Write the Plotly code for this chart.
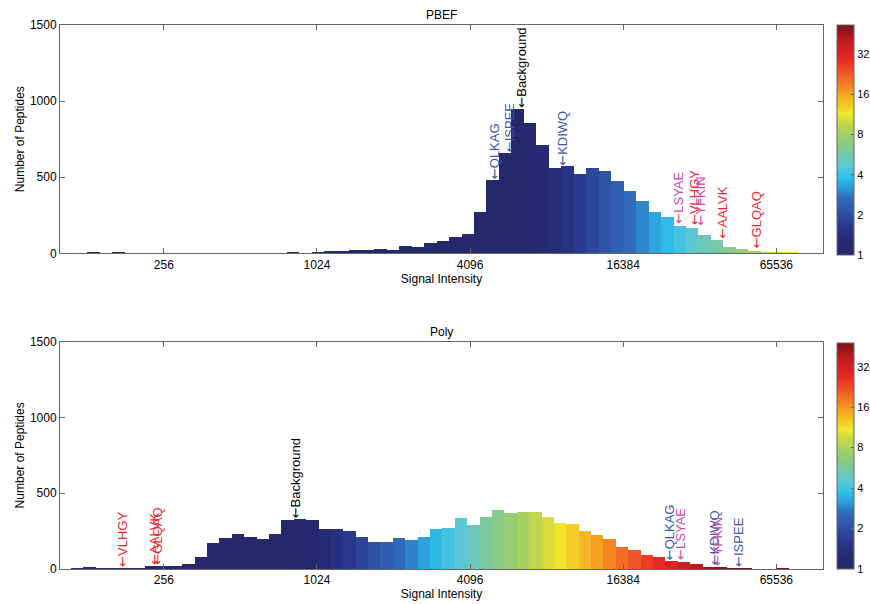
import numpy as np
import plotly.graph_objects as go

# ---------------- data ----------------
# PBEF histogram (bins equally spaced in log2 intensity)
pbef_first_edge = 128.2          # intensity at left edge of first bin
pbef_bin_log2 = 0.16287          # bin width in log2 units
pbef_counts = [3, 0, 3, 0, 0, 0, 0, 2, 2, 0, 1, 1, 1, 1, 1, 1, 8, 1, 8, 15,
               15, 22, 22, 29, 22, 50, 41, 66, 81, 104, 125, 271, 479, 660, 950, 857, 712, 563, 571, 522,
               558, 542, 473, 407, 347, 274, 237, 178, 165, 121, 88, 40, 30, 17, 10, 3, 3]
pbef_background = 6553

pbef_labels = ["QLKAG", "ISPEE", "Background", "KDIWQ", "LSYAE", "VLHGY", "YFKIN", "AALVK", "GLQAQ"]
pbef_label_x = [5120, 5898, 6553, 9490, 26970, 31170, 33100, 40260, 54700]
pbef_label_y = [479, 660, 950, 571, 190, 178, 178, 88, 25]
pbef_label_kind = ["blue", "blue", "black", "blue", "magenta", "red", "magenta", "red", "red"]

# Poly histogram
poly_first_edge = 110.2
poly_bin_log2 = 0.16182
poly_counts = [6, 12, 6, 6, 10, 10, 21, 21, 19, 33, 83, 176, 206, 231, 211, 202, 231, 323, 331, 322,
               265, 265, 254, 212, 178, 181, 205, 190, 211, 264, 275, 338, 289, 348, 390, 371, 375, 380, 344, 306,
               297, 251, 229, 200, 148, 125, 93, 79, 53, 47, 35, 16, 12, 8, 3, 1, 1, 3]
poly_background = 843

poly_labels = ["VLHGY", "AALVK", "GLQAQ", "Background", "QLKAG", "LSYAE", "KDIWQ", "YFKIN", "ISPEE"]
poly_label_x = [176.8, 236, 241, 843, 25090, 27630, 37340, 38260, 46790]
poly_label_y = [10, 20, 20, 331, 53, 53, 16, 16, 8]
poly_label_kind = ["red", "red", "red", "black", "blue", "magenta", "blue", "magenta", "blue"]

x_ticks = [256, 1024, 4096, 16384, 65536]
x_limits = [100, 100000]
y_ticks = [0, 500, 1000, 1500]
cbar_ticks = [1, 2, 4, 8, 16, 32]
pbef_cmax_ratio = 53
poly_cmax_ratio = 48

# ---------------- style ----------------
FONT = "Liberation Sans, Arial, Helvetica, sans-serif"
label_colors = {"blue": "rgb(58,86,176)", "magenta": "rgb(206,72,168)",
                "red": "rgb(238,38,44)", "black": "rgb(0,0,0)"}
colorscale = [
    [0.0, "rgb(38,40,108)"],
    [0.06, "rgb(38,42,115)"],
    [0.123, "rgb(40,55,140)"],
    [0.170, "rgb(45,75,160)"],
    [0.254, "rgb(50,110,190)"],
    [0.297, "rgb(45,160,220)"],
    [0.338, "rgb(45,192,235)"],
    [0.384, "rgb(90,200,215)"],
    [0.442, "rgb(120,200,165)"],
    [0.507, "rgb(150,205,110)"],
    [0.572, "rgb(200,215,70)"],
    [0.616, "rgb(240,230,45)"],
    [0.674, "rgb(245,185,35)"],
    [0.703, "rgb(245,160,32)"],
    [0.775, "rgb(240,100,38)"],
    [0.848, "rgb(235,40,36)"],
    [0.935, "rgb(190,25,30)"],
    [1.0, "rgb(120,20,25)"],
]

fig = go.Figure()

TOP_DOM = [0.5803, 1.0]
BOT_DOM = [0.0, 0.4178]


def add_hist(first_edge, bw, counts, bg, cmax_ratio, xa, ya, cb_y, cb_len):
    n = len(counts)
    left = np.log2(first_edge) + bw * np.arange(n)
    centers = left + bw / 2
    col = np.clip(centers - np.log2(bg), 0, None)
    fig.add_trace(go.Bar(
        x=centers, y=counts, width=bw, xaxis=xa, yaxis=ya,
        marker=dict(color=col, colorscale=colorscale, cmin=0, cmax=np.log2(cmax_ratio),
                    line=dict(width=0),
                    showscale=True,
                    colorbar=dict(tickvals=np.log2(cbar_ticks), ticktext=[str(t) for t in cbar_ticks],
                                  x=1.0183, xanchor="left", xpad=0, ypad=0,
                                  y=cb_y, yanchor="middle", len=cb_len, lenmode="fraction",
                                  thickness=17, outlinewidth=1, outlinecolor="#666",
                                  ticks="inside", ticklen=3, tickcolor="#666",
                                  tickfont=dict(family=FONT, size=11, color="black"))),
        showlegend=False, hoverinfo="skip"))


add_hist(pbef_first_edge, pbef_bin_log2, pbef_counts, pbef_background, pbef_cmax_ratio,
         "x", "y", 0.7886, 0.423)
add_hist(poly_first_edge, poly_bin_log2, poly_counts, poly_background, poly_cmax_ratio,
         "x2", "y2", 0.2077, 0.4154)

annotations = []
ARROW = '<span style="font-family:DejaVu Sans">\u2190</span>'


def add_labels(names, xs, ys, kinds, xref, yref):
    for nm, xv, yv, k in zip(names, xs, ys, kinds):
        annotations.append(dict(
            x=np.log2(xv), y=yv, xref=xref, yref=yref, text=ARROW + nm,
            textangle=-90, showarrow=False, xanchor="center", yanchor="bottom",
            font=dict(family=FONT, size=13, color=label_colors[k]), borderpad=0))


add_labels(pbef_labels, pbef_label_x, pbef_label_y, pbef_label_kind, "x", "y")
add_labels(poly_labels, poly_label_x, poly_label_y, poly_label_kind, "x2", "y2")

# titles
annotations.append(dict(text="PBEF", x=0.5, y=1.0, xref="paper", yref="paper",
                        xanchor="center", yanchor="bottom", yshift=1, showarrow=False,
                        font=dict(family=FONT, size=12, color="black")))
annotations.append(dict(text="Poly", x=0.5, y=BOT_DOM[1], xref="paper", yref="paper",
                        xanchor="center", yanchor="bottom", yshift=1, showarrow=False,
                        font=dict(family=FONT, size=12, color="black")))

axis_common = dict(showline=True, linecolor="#666", linewidth=1, mirror="ticks",
                   ticks="inside", ticklen=5, tickcolor="#666", showgrid=False, zeroline=False,
                   tickfont=dict(family=FONT, size=12, color="black"))

xaxis_common = dict(axis_common, range=[np.log2(x_limits[0]), np.log2(x_limits[1])],
                    tickvals=np.log2(x_ticks), ticktext=[str(t) for t in x_ticks],
                    title=dict(text="Signal Intensity", standoff=3,
                               font=dict(family=FONT, size=12, color="black")))
yaxis_common = dict(axis_common, range=[0, 1500], tickvals=y_ticks,
                    title=dict(text="Number of Peptides", standoff=2,
                               font=dict(family=FONT, size=12, color="black")))

fig.update_layout(
    width=870, height=604,
    margin=dict(l=60, r=47, t=25, b=35, autoexpand=False),
    paper_bgcolor="white", plot_bgcolor="white",
    bargap=0,
    xaxis=dict(xaxis_common, domain=[0, 1], anchor="y"),
    yaxis=dict(yaxis_common, domain=TOP_DOM, anchor="x"),
    xaxis2=dict(xaxis_common, domain=[0, 1], anchor="y2"),
    yaxis2=dict(yaxis_common, domain=BOT_DOM, anchor="x2"),
    annotations=annotations,
    font=dict(family=FONT, size=12, color="black"),
)

# remove the page's default body margin so the 870x604 figure fills the window exactly
fig.write_html("out.html", config={"displayModeBar": False},
               post_script="document.body.style.margin='0';document.body.style.overflow='hidden';")
